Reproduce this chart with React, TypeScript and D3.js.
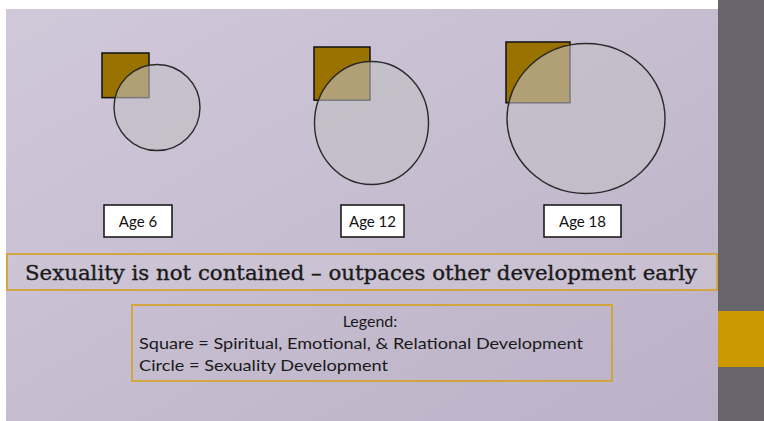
import * as d3 from 'd3'
import {useEffect} from 'react'

// values
const ages = ['Age 6', 'Age 12', 'Age 18']
const squareDev = [47, 56, 64]   // spiritual / emotional / relational
const circleDev = [43, 57, 79]   // sexuality
const title = 'Sexuality is not contained \u2013 outpaces other development early'
const legendLines = [
  'Square =  Spiritual, Emotional,  & Relational Development',
  'Circle = Sexuality Development',
]

const W = 764
const H = 421

const App = () => {
  useEffect(() => {
    document.body.style.margin = '0'
  }, [])

  const xScale = d3.scalePoint<string>()
    .domain(ages)
    .range([157, 586])

  const sizeScale = d3.scaleLinear()
    .domain([0, 100])
    .range([0, 100])

  // layout of each group (not data)
  const circleY = [107.5, 123, 118.5]
  const circleStretch = [1, 1.08, 0.95]
  const squareX = [102, 314, 506]
  const squareY = [53, 47, 42]
  const labelX = [138, 372.5, 582.5]
  const labelW = [68, 63, 77]

  const sans = 'Lato, "Open Sans", sans-serif'

  return (
    <svg width={W} height={H} style={{display: 'block'}}>
      <defs>
        <linearGradient id="bg" x1="0" y1="0" x2="1" y2="1">
          <stop offset="0%" stopColor="#d0c9da"/>
          <stop offset="100%" stopColor="#bcb1c7"/>
        </linearGradient>
      </defs>
      <rect width={W} height={H} fill="#ffffff"/>
      <rect x={6} y={9} width={712} height={H - 9} fill="url(#bg)"/>
      <rect x={718} y={0} width={46} height={H} fill="#67646b"/>
      <rect x={718} y={311} width={46} height={56} fill="#cc9a00"/>

      {ages.map((a, i) => {
        const s = sizeScale(squareDev[i])
        const r = sizeScale(circleDev[i])
        return (
          <g key={a}>
            <rect x={squareX[i]} y={squareY[i]} width={s} height={s * 0.95}
                  fill="#9a7200" stroke="#111" strokeWidth={1.5}/>
            <ellipse cx={xScale(a)} cy={circleY[i]} rx={r} ry={r * circleStretch[i]}
                     fill="#c2c0c4" fillOpacity={0.6} stroke="#2a2a2a" strokeWidth={1.4}/>
            <rect x={labelX[i] - labelW[i] / 2} y={205} width={labelW[i]} height={32}
                  fill="#ffffff" stroke="#111" strokeWidth={1.5}/>
            <text x={labelX[i]} y={227} textAnchor="middle" fontFamily={sans}
                  fontSize={15} fill="#111">{a}</text>
          </g>
        )
      })}

      <rect x={7} y={254} width={710} height={36} fill="#cec6d6" fillOpacity={0.6}
            stroke="#d4a010" strokeWidth={1.5}/>
      <text x={25} y={280} fontFamily='"DejaVu Serif", "Liberation Serif", serif' fontSize={21}
            textLength={672} lengthAdjust="spacingAndGlyphs" fill="#1a1a1a"
            stroke="#1a1a1a" strokeWidth={0.35}>{title}</text>

      <rect x={132} y={305} width={480} height={76} fill="none" stroke="#d4a010" strokeWidth={1.5}/>
      <text x={370} y={327} textAnchor="middle" fontFamily={sans} fontSize={16} fill="#1a1a1a">Legend:</text>
      {legendLines.map((l, i) => (
        <text key={l} x={139} y={349 + i * 22} fontFamily={sans} fontSize={16} fill="#1a1a1a"
              textLength={i === 0 ? 444 : 249} lengthAdjust="spacingAndGlyphs">{l}</text>
      ))}
    </svg>
  )
}

export default App
